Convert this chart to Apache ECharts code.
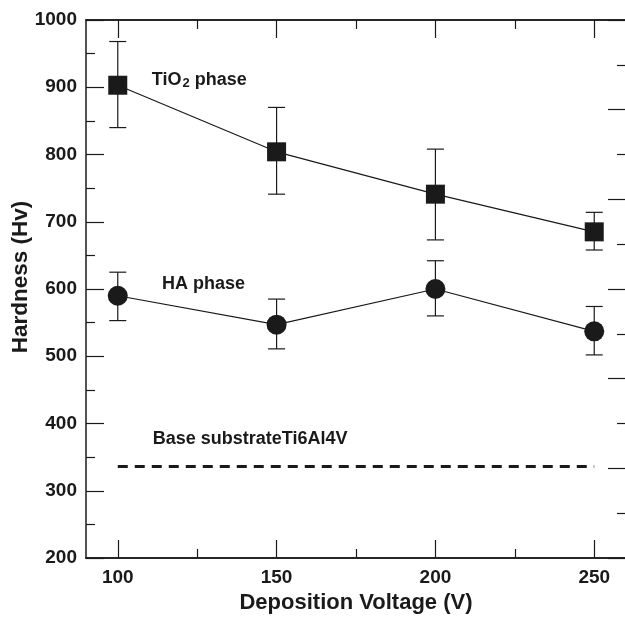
<!DOCTYPE html>
<html><head><meta charset="utf-8">
<script src="https://cdn.jsdelivr.net/npm/echarts@6/dist/echarts.min.js"></script>
<style>html,body{margin:0;padding:0;background:#fff}#c{width:625px;height:618px}</style>
</head><body><div id="c"></div>
<script>
const voltages = [100, 150, 200, 250];
const tio2 = [903, 804, 741, 685];
const tio2Low = [840, 741, 673, 658];
const tio2High = [968, 870, 808, 714];
const ha = [590, 547, 600, 537];
const haLow = [553, 511, 560, 502];
const haHigh = [625, 585, 642, 574];
const baseSubstrate = 336;
const xMajorTicks = [100, 150, 200, 250];
const xMinorTicks = [125, 175, 225];
const annotations = [
  [110.7, 911, '{a|TiO}{s|2}{a| phase}'],
  [113.9, 607, '{a|HA phase}'],
  [111, 377, '{a|Base substrateTi6Al4V}']
];

const ink = '#1a1a1a';
const font = 'Liberation Sans, Arial, sans-serif';
const chart = echarts.init(document.getElementById('c'), null, {renderer: 'canvas'});

function errBars(low, high) {
  return voltages.map((v, i) => [v, low[i], high[i]]);
}
function renderErr(params, api) {
  const x = api.value(0);
  const lo = api.coord([x, api.value(1)]);
  const hi = api.coord([x, api.value(2)]);
  const w = 8.5;
  const st = {stroke: ink, lineWidth: 1.2};
  return {type: 'group', children: [
    {type: 'line', shape: {x1: lo[0], y1: lo[1], x2: hi[0], y2: hi[1]}, style: st},
    {type: 'line', shape: {x1: lo[0] - w, y1: lo[1], x2: lo[0] + w, y2: lo[1]}, style: st},
    {type: 'line', shape: {x1: hi[0] - w, y1: hi[1], x2: hi[0] + w, y2: hi[1]}, style: st}
  ]};
}

const axisLineStyle = {color: ink, width: 1.5};
function xAxisDef(pos, ticks, len, labels) {
  return {
    type: 'value', min: 90, max: 260, position: pos,
    axisLine: {show: true, lineStyle: axisLineStyle},
    axisTick: {show: true, inside: true, length: len, customValues: ticks, lineStyle: {color: ink, width: 1.2}},
    axisLabel: labels ? {show: true, customValues: ticks, color: ink, fontFamily: font, fontWeight: 'bold', fontSize: 19, margin: 10} : {show: false},
    splitLine: {show: false}
  };
}

const option = {
  animation: false,
  backgroundColor: '#fff',
  grid: {left: 86, right: -1, top: 20, bottom: 60, containLabel: false, outerBoundsMode: 'none'},
  xAxis: [
    Object.assign(xAxisDef('bottom', xMajorTicks, 18, true), {
      name: 'Deposition Voltage (V)', nameLocation: 'middle', nameGap: 34,
      nameTextStyle: {color: ink, fontFamily: font, fontWeight: 'bold', fontSize: 22}
    }),
    xAxisDef('bottom', xMinorTicks, 9, false),
    xAxisDef('top', xMajorTicks, 18, false),
    xAxisDef('top', xMinorTicks, 9, false)
  ],
  yAxis: [
    {
      type: 'value', min: 200, max: 1000, interval: 100, position: 'left',
      name: 'Hardness (Hv)', nameLocation: 'middle', nameGap: 54, nameMoveOverlap: false,
      nameTextStyle: {color: ink, fontFamily: font, fontWeight: 'bold', fontSize: 22.5, padding: [0, 0, 0, 24]},
      axisLine: {show: true, lineStyle: axisLineStyle},
      axisTick: {show: true, inside: true, length: 18, lineStyle: {color: ink, width: 1.2}},
      minorTick: {show: true, splitNumber: 2, length: 9, lineStyle: {color: ink, width: 1.2}},
      axisLabel: {color: ink, fontFamily: font, fontWeight: 'bold', fontSize: 19, margin: 9, formatter: v => String(v)},
      splitLine: {show: false}
    },
    {
      type: 'value', min: 0, max: 6, interval: 1, position: 'right',
      axisLine: {show: false},
      axisTick: {show: true, inside: true, length: 18, lineStyle: {color: ink, width: 1.2}},
      minorTick: {show: true, splitNumber: 2, length: 9, lineStyle: {color: ink, width: 1.2}},
      axisLabel: {show: false},
      splitLine: {show: false}
    }
  ],
  series: [
    {type: 'line', name: 'TiO2 phase', data: voltages.map((v, i) => [v, tio2[i]]),
      symbol: 'rect', symbolSize: 19, itemStyle: {color: ink}, lineStyle: {color: ink, width: 1.2}, z: 3},
    {type: 'line', name: 'HA phase', data: voltages.map((v, i) => [v, ha[i]]),
      symbol: 'circle', symbolSize: 20, itemStyle: {color: ink}, lineStyle: {color: ink, width: 1.2}, z: 3},
    {type: 'custom', data: errBars(tio2Low, tio2High), renderItem: renderErr, z: 2},
    {type: 'custom', data: errBars(haLow, haHigh), renderItem: renderErr, z: 2},
    {type: 'line', name: 'Base substrate', data: [[voltages[0], baseSubstrate], [voltages[voltages.length - 1], baseSubstrate]],
      symbol: 'none', lineStyle: {color: ink, width: 3, type: [10, 7]}},
    {type: 'scatter', data: annotations, symbolSize: 0, silent: true, itemStyle: {opacity: 1, color: ink},
      label: {show: true, position: 'right', distance: 0, opacity: 1,
        formatter: p => p.data[2],
        rich: {
          a: {color: ink, fontFamily: font, fontWeight: 'bold', fontSize: 18},
          s: {color: ink, fontFamily: font, fontWeight: 'bold', fontSize: 13, verticalAlign: 'bottom', padding: [7, 0, 0, 1]}
        }}}
  ]
};
chart.setOption(option);
</script></body></html>
